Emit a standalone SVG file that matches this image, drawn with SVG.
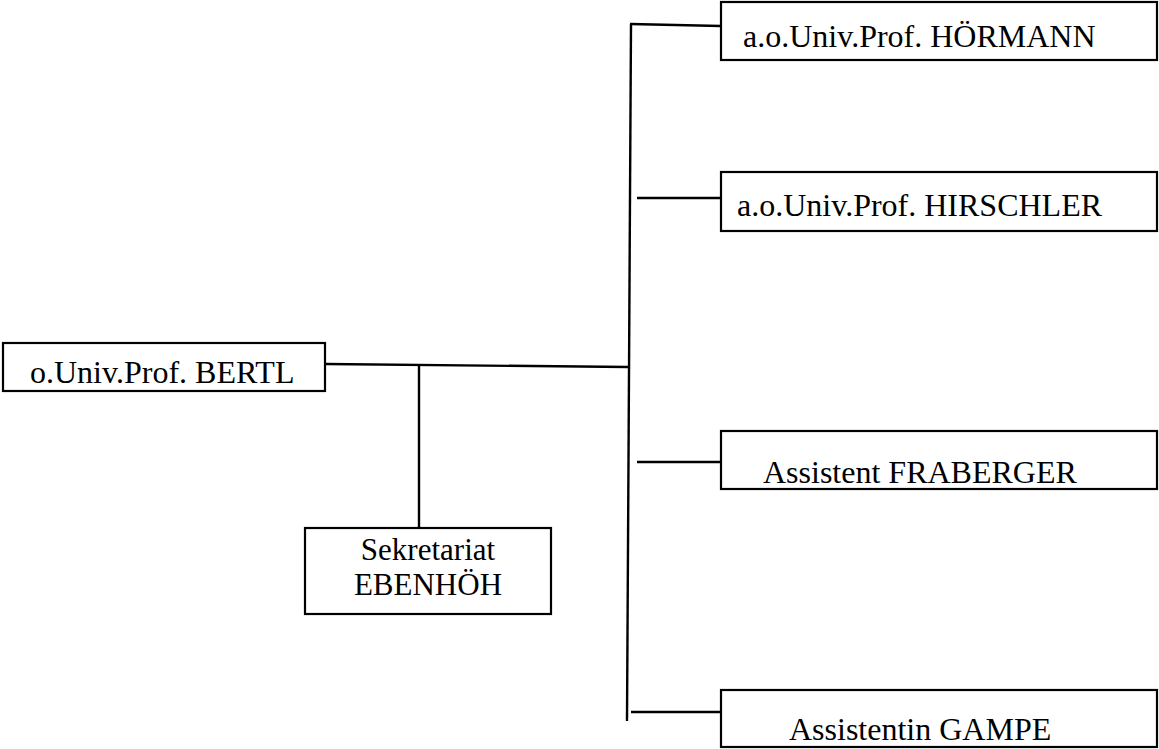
<svg xmlns="http://www.w3.org/2000/svg" width="1159" height="749" viewBox="0 0 1159 749">
<style>
.box{fill:#fff;stroke:#000;stroke-width:2.2}
.t{font-family:"Liberation Serif","Times New Roman",serif;font-size:32px;fill:#000}
.s{font-size:31px}
.c{fill:none;stroke:#000;stroke-width:2.4;stroke-linecap:butt}
</style>
<rect width="1159" height="749" fill="#fff"/>
<g id="connectors">
<line class="c" x1="326" y1="364" x2="628" y2="367"/>
<line class="c" x1="419" y1="364" x2="419" y2="528"/>
<line class="c" x1="631" y1="24" x2="627" y2="721"/>
<line class="c" x1="630" y1="24" x2="721" y2="26"/>
<line class="c" x1="637" y1="198" x2="721" y2="198"/>
<line class="c" x1="637" y1="462" x2="721" y2="462"/>
<line class="c" x1="631" y1="712" x2="727" y2="712"/>
</g>
<g id="bertl">
<rect class="box" x="3" y="343" width="322" height="48"/>
<text class="t" x="30" y="383">o.Univ.Prof. BERTL</text>
</g>
<g id="sekretariat">
<rect class="box" x="305" y="528" width="246" height="86"/>
<text class="t s" x="428" y="560" text-anchor="middle">Sekretariat</text>
<text class="t s" x="428" y="595" text-anchor="middle">EBENHÖH</text>
</g>
<g id="hoermann">
<rect class="box" x="721" y="2" width="436" height="58"/>
<text class="t" x="743" y="47">a.o.Univ.Prof. HÖRMANN</text>
</g>
<g id="hirschler">
<rect class="box" x="721" y="172" width="436" height="59"/>
<text class="t" x="737" y="216">a.o.Univ.Prof. HIRSCHLER</text>
</g>
<g id="fraberger">
<rect class="box" x="721" y="431" width="436" height="58"/>
<text class="t" x="763" y="483">Assistent FRABERGER</text>
</g>
<g id="gampe">
<rect class="box" x="721" y="690" width="436" height="57"/>
<text class="t" x="789" y="740">Assistentin GAMPE</text>
</g>
</svg>
